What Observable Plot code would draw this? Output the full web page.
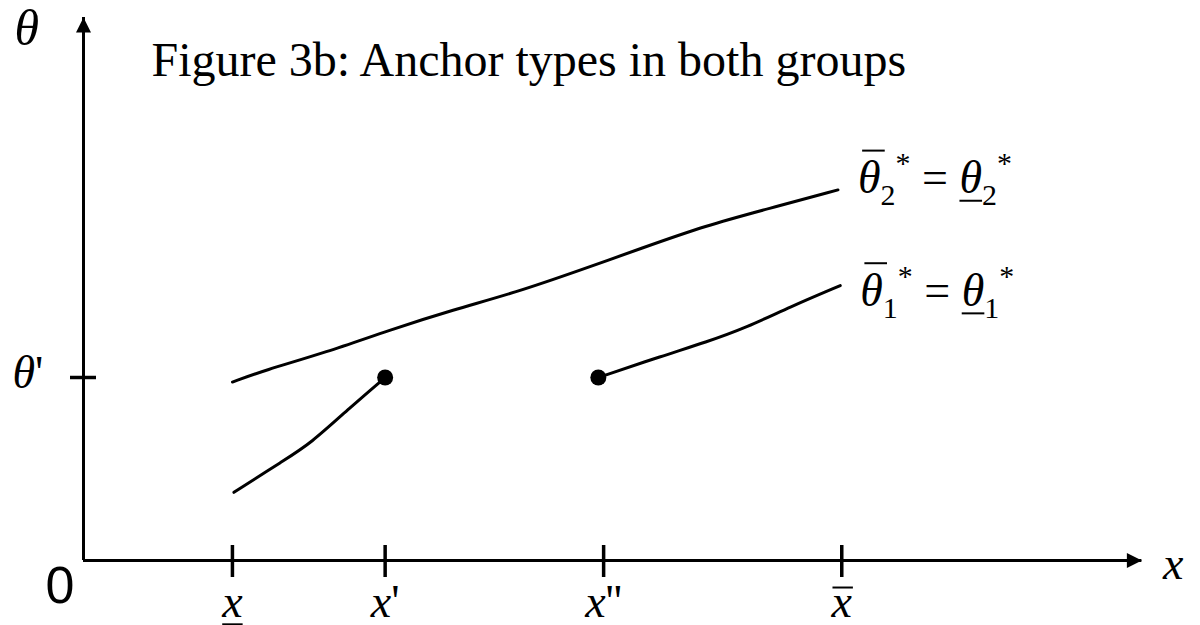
<!DOCTYPE html>
<html>
<head>
<meta charset="utf-8">
<script src="https://cdn.jsdelivr.net/npm/d3@7"></script>
<script src="https://cdn.jsdelivr.net/npm/@observablehq/plot@0.6"></script>
<style>
  html, body { margin: 0; padding: 0; background: #fff; }
</style>
</head>
<body>
<div id="chart"></div>
<script>
// Title
const title = "Figure 3b: Anchor types in both groups";

// Axis ends (model units), where the arrowheads sit
const xMax = 14;
const yMax = 11.87;

// Points marked on the x axis
const xTickValues = [1.97, 3.99, 6.88, 10.03];
const xTickLabels = ["x\u0332", "x'", "x''", "x\u0305"];

// Level marked on the θ axis
const thetaPrime = 4;
const thetaPrimeLabel = "θ'";

// Axis names and origin
const xName = "x";
const yName = "θ";
const originLabel = "0";

// Group 2 anchor curve
const group2X = [1.97, 2.38, 3.21, 4.05, 4.89, 5.72, 6.56, 7.39, 8.23, 9.06, 9.98];
const group2Y = [3.90, 4.15, 4.55, 5.04, 5.48, 5.86, 6.34, 6.83, 7.32, 7.69, 8.10];

// Group 1 anchor curve, left piece ending at (x', θ')
const group1LeftX = [1.99, 2.65, 3.00, 3.53, 3.99];
const group1LeftY = [1.49, 2.19, 2.55, 3.35, 4.00];

// Group 1 anchor curve, right piece starting at θ'
const group1RightX = [6.81, 7.67, 8.23, 8.78, 9.34, 10.01];
const group1RightY = [4.00, 4.48, 4.77, 5.10, 5.54, 6.01];

// Curve labels
const group2Label = "θ\u0305₂* = θ\u0332₂*";
const group1Label = "θ\u0305₁* = θ\u0332₁*";

// ---- tables built from the arrays above
const toPoints = (X, Y, series) => X.map((x, i) => ({x, y: Y[i], series}));
const curves = [
  ...toPoints(group2X, group2Y, "group 2"),
  ...toPoints(group1LeftX, group1LeftY, "group 1 (left)"),
  ...toPoints(group1RightX, group1RightY, "group 1 (right)")
];
const endpoints = [
  {x: group1LeftX[group1LeftX.length - 1], y: group1LeftY[group1LeftY.length - 1]},
  {x: group1RightX[0], y: group1RightY[0]}
];
const xTicks = xTickValues.map((x, i) => ({x, y: 0, label: xTickLabels[i]}));

// Filled arrowheads whose tip sits on the anchor point
const arrowRight = {
  draw(ctx, size) {
    const r = Math.sqrt(size / Math.PI);
    ctx.moveTo(0, 0); ctx.lineTo(-2 * r, -r); ctx.lineTo(-2 * r, r); ctx.closePath();
  }
};
const arrowUp = {
  draw(ctx, size) {
    const r = Math.sqrt(size / Math.PI);
    ctx.moveTo(0, 0); ctx.lineTo(-r, 2 * r); ctx.lineTo(r, 2 * r); ctx.closePath();
  }
};

const serif = '"Liberation Serif", "Times New Roman", Times, serif';
const sans = '"Liberation Sans", Arial, sans-serif';
const mathSize = 46;
const math = {fontFamily: serif, fontSize: mathSize, fill: "black", lineAnchor: "bottom"};

const svg = Plot.plot({
  width: 1200,
  height: 625,
  margin: 0,
  x: {domain: [0, xMax], range: [83, 1141.4], axis: null},
  y: {domain: [0, 12], range: [560, 11], axis: null},
  style: {background: "#fff", color: "black", overflow: "visible"},
  marks: [
    // axes
    Plot.ruleX([0], {y1: 0, y2: yMax, stroke: "black", strokeWidth: 3}),
    Plot.ruleY([0], {x1: 0, x2: xMax, stroke: "black", strokeWidth: 3}),
    Plot.dot([{x: xMax, y: 0}], {x: "x", y: "y", symbol: arrowRight, r: 7.5, fill: "black", stroke: "none"}),
    Plot.dot([{x: 0, y: yMax}], {x: "x", y: "y", symbol: arrowUp, r: 7.5, fill: "black", stroke: "none"}),
    // tick marks crossing the axes
    Plot.ruleX(xTickValues, {y1: 0, y2: 0, insetTop: -15, insetBottom: -17, stroke: "black", strokeWidth: 3.5}),
    Plot.ruleY([thetaPrime], {x1: 0, x2: 0, insetLeft: -13, insetRight: -13, stroke: "black", strokeWidth: 3.5}),
    // anchor curves
    Plot.line(curves, {x: "x", y: "y", z: "series", curve: "basis", stroke: "black", strokeWidth: 3}),
    Plot.dot(endpoints, {x: "x", y: "y", r: 8, fill: "black", stroke: "none"}),
    // labels
    Plot.text(xTicks, {x: "x", y: "y", text: "label", textAnchor: "middle", dy: 56, ...math}),
    Plot.text([{x: 0, y: thetaPrime, label: thetaPrimeLabel}], {x: "x", y: "y", text: "label", textAnchor: "start", dx: -71, dy: 10, ...math}),
    Plot.text([{x: 0, y: yMax, label: yName}], {x: "x", y: "y", text: "label", textAnchor: "start", dx: -69, dy: 28, ...math, fontSize: 50}),
    Plot.text([{x: xMax, y: 0, label: xName}], {x: "x", y: "y", text: "label", textAnchor: "start", dx: 21, dy: 18, ...math}),
    Plot.text([{x: 0, y: 0, label: originLabel}], {x: "x", y: "y", text: "label", textAnchor: "middle", lineAnchor: "bottom", dx: -23.5, dy: 42, fontFamily: sans, fontSize: 52, fill: "black"}),
    Plot.text([{x: group2X[group2X.length - 1], y: group2Y[group2Y.length - 1], label: group2Label}],
      {x: "x", y: "y", text: "label", textAnchor: "start", dx: 20, dy: 3, ...math}),
    Plot.text([{x: group1RightX[group1RightX.length - 1], y: group1RightY[group1RightY.length - 1], label: group1Label}],
      {x: "x", y: "y", text: "label", textAnchor: "start", dx: 20, dy: 20, ...math}),
    Plot.text([title], {frameAnchor: "top-left", textAnchor: "start", lineAnchor: "bottom", dx: 151, dy: 75, fontFamily: serif, fontSize: 48, fill: "black"})
  ]
});

document.getElementById("chart").appendChild(svg);

// ---- math typesetting: italic letters, sub/superscripts, over/underbars
const SVGNS = "http://www.w3.org/2000/svg";
const MARKS = {"\u0305": "over", "\u0304": "over", "\u0332": "under"};
const SUBSCRIPTS = {"₀": "0", "₁": "1", "₂": "2", "₃": "3"};

function typeset(text) {
  const size = parseFloat(getComputedStyle(text).fontSize) || mathSize;
  const chars = Array.from(text.textContent);
  const tokens = [];
  for (let i = 0; i < chars.length; i++) {
    const c = chars[i];
    if (c in SUBSCRIPTS) tokens.push({s: SUBSCRIPTS[c], role: "sub"});
    else if (c === "*") tokens.push({s: c, role: "sup"});
    else if (MARKS[chars[i + 1]]) { tokens.push({s: c, role: "base", mark: MARKS[chars[i + 1]]}); i++; }
    else tokens.push({s: c, role: "base"});
  }
  text.textContent = "";
  text.style.whiteSpace = "pre";
  const shift = {base: 0, sub: 0.26 * size, sup: -0.43 * size};
  let level = 0, index = 0;
  const marked = [];
  for (const t of tokens) {
    const span = document.createElementNS(SVGNS, "tspan");
    const target = shift[t.role];
    if (target !== level) span.setAttribute("dy", target - level);
    level = target;
    if (t.role !== "base") span.setAttribute("font-size", 0.65 * size);
    span.setAttribute("font-style", /\p{L}/u.test(t.s) ? "italic" : "normal");
    span.textContent = t.s;
    text.appendChild(span);
    if (t.mark) marked.push({index, mark: t.mark, tall: /[θbdfhklt]|\p{Lu}/u.test(t.s)});
    index += t.s.length;
  }
  for (const m of marked) {
    const a = text.getStartPositionOfChar(m.index);
    const b = text.getEndPositionOfChar(m.index);
    const y = m.mark === "under" ? a.y + 0.17 * size : a.y - (m.tall ? 0.92 : 0.63) * size;
    const slant = m.mark === "over" ? (m.tall ? 0.09 : 0.02) * size : 0;
    const line = document.createElementNS(SVGNS, "line");
    line.setAttribute("x1", a.x + slant);
    line.setAttribute("x2", b.x + slant);
    line.setAttribute("y1", y);
    line.setAttribute("y2", y);
    line.setAttribute("stroke", "black");
    line.setAttribute("stroke-width", 2);
    const tf = text.getAttribute("transform");
    if (tf) line.setAttribute("transform", tf);
    text.parentNode.appendChild(line);
  }
}

const mathStrings = new Set([...xTickLabels, thetaPrimeLabel, xName, yName, group2Label, group1Label]);
svg.querySelectorAll("text").forEach((t) => {
  if (mathStrings.has(t.textContent)) typeset(t);
});
</script>
</body>
</html>
